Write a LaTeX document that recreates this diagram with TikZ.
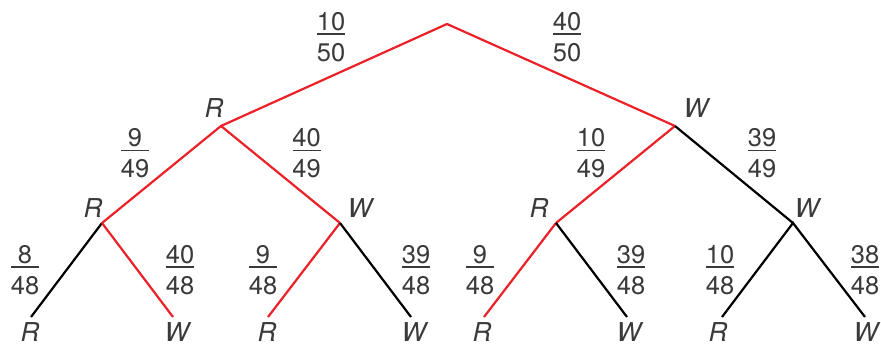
\documentclass[tikz,border=0pt]{standalone}
\usepackage{fontspec}
\setmainfont{TeX Gyre Heros}
\definecolor{tred}{RGB}{236,32,39}
\definecolor{txt}{RGB}{58,58,58}
\tikzset{
  redge/.style={draw=tred, line width=2.2pt, line join=miter},
  bedge/.style={draw=black, line width=2.2pt, line join=miter},
  lab/.style={font=\fontsize{26}{26}\selectfont\itshape, text=txt, inner sep=0pt, anchor=base},
  numst/.style={font=\fontsize{25.5}{25.5}\selectfont, text=txt, inner sep=0pt, anchor=base},
  fbar/.style={draw=txt, line width=1.4pt},
}
\newcommand\myfrac[5]{%
  \node[numst] (#1n) at (#2,#3+3.5) {#4};
  \node[numst] (#1d) at (#2,#3-27.5) {#5};
  \coordinate (#1l) at (#2-14,#3);
  \coordinate (#1r) at (#2+14,#3);
  \draw[fbar] (#1l) -- (#1r);
}
\begin{document}
\begin{tikzpicture}[x=1pt,y=1pt]
\useasboundingbox (0,0) rectangle (881,344);
% junctions
\coordinate (root) at (447,320);
\coordinate (a) at (221,218);
\coordinate (b) at (675,218);
\coordinate (aa) at (102,121);
\coordinate (ab) at (340,121);
\coordinate (ba) at (556,121);
\coordinate (bb) at (793,121);
\coordinate (aaa) at (31,27);
\coordinate (aab) at (173,27);
\coordinate (aba) at (268,27);
\coordinate (abb) at (411,27);
\coordinate (baa) at (484,27);
\coordinate (bab) at (627,27);
\coordinate (bba) at (722,27);
\coordinate (bbb) at (865,27);
% edges
\draw[redge] (a) -- (root) -- (b);
\draw[redge] (aa) -- (a) -- (ab);
\draw[redge] (ba) -- (b);
\draw[bedge] (b) -- (bb);
\draw[bedge] (aa) -- (aaa);
\draw[redge] (aa) -- (aab);
\draw[redge] (ab) -- (aba);
\draw[bedge] (ab) -- (abb);
\draw[redge] (ba) -- (baa);
\draw[bedge] (ba) -- (bab);
\draw[bedge] (bba) -- (bb) -- (bbb);
% node labels
\node[lab] (la) at (214,226) {R};
\node[lab] (lb) at (696,226) {W};
\node[lab] (laa) at (93,126) {R};
\node[lab] (lab) at (360,126) {W};
\node[lab] (lba) at (539,126) {R};
\node[lab] (lbb) at (807,126) {W};
\node[lab] (laaa) at (30,2.5) {R};
\node[lab] (laab) at (177,2.5) {W};
\node[lab] (laba) at (267,2.5) {R};
\node[lab] (labb) at (414,2.5) {W};
\node[lab] (lbaa) at (482,2.5) {R};
\node[lab] (lbab) at (629,2.5) {W};
\node[lab] (lbba) at (718,2.5) {R};
\node[lab] (lbbb) at (866,2.5) {W};
% probabilities
\myfrac{f1}{331}{310}{10}{50}
\myfrac{f2}{567}{310}{40}{50}
\myfrac{f3}{135}{193.5}{9}{49}
\myfrac{f4}{306.5}{193.5}{40}{49}
\myfrac{f5}{591}{193.5}{10}{49}
\myfrac{f6}{762}{193.5}{39}{49}
\myfrac{f7}{25}{77}{8}{48}
\myfrac{f8}{180}{77}{40}{48}
\myfrac{f9}{263}{77}{9}{48}
\myfrac{f10}{416}{77}{39}{48}
\myfrac{f11}{480}{77}{9}{48}
\myfrac{f12}{631}{77}{39}{48}
\myfrac{f13}{720}{77}{10}{48}
\myfrac{f14}{865}{77}{38}{48}
\end{tikzpicture}
\end{document}
